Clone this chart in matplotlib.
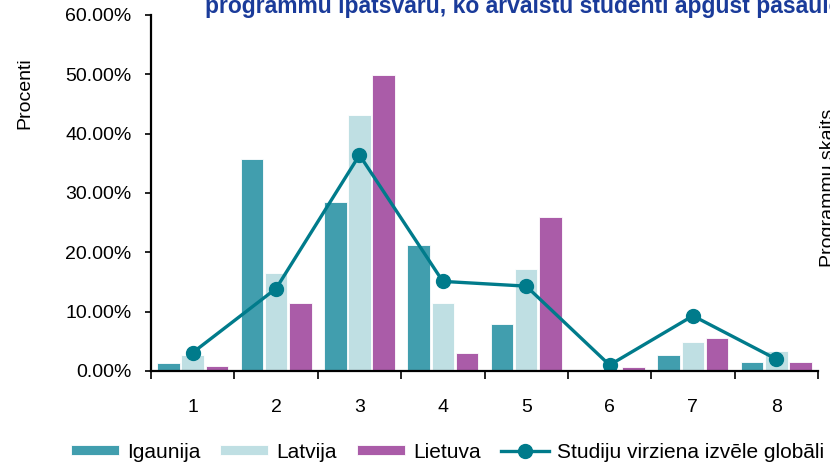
import numpy as np
import matplotlib.pyplot as plt
from matplotlib.ticker import FuncFormatter

plt.rcParams['font.family'] = ['Liberation Sans', 'DejaVu Sans']

categories = ['1', '2', '3', '4', '5', '6', '7', '8']
igaunija = [1.4, 35.7, 28.4, 21.3, 7.9, 0.0, 2.7, 1.5]
latvija = [2.7, 16.5, 43.1, 11.4, 17.2, 0.0, 4.9, 3.4]
lietuva = [0.8, 11.4, 49.9, 3.0, 26.0, 0.7, 5.6, 1.5]
globali = [3.1, 13.9, 36.4, 15.1, 14.3, 1.0, 9.3, 2.0]

c_ig = '#419EAE'
c_lv = '#BFDFE3'
c_lt = '#AA5CA8'
c_line = '#007B8B'

fig = plt.figure(figsize=(8.3, 4.67), dpi=100)
ax = fig.add_axes([0.182, 0.2056, 0.8035, 0.7623])

x = np.arange(len(categories))
w = 0.27
ax.bar(x - w - 0.02, np.array(igaunija) / 100, w, color=c_ig, edgecolor='white', linewidth=0.6, label='Igaunija')
ax.bar(x, np.array(latvija) / 100, w, color=c_lv, edgecolor='white', linewidth=0.6, label='Latvija')
ax.bar(x + w + 0.02, np.array(lietuva) / 100, w, color=c_lt, edgecolor='white', linewidth=0.6, label='Lietuva')
ax.plot(x, np.array(globali) / 100, color=c_line, linewidth=2.4, marker='o', markersize=10,
        label='Studiju virziena izvēle globāli')

ax.set_xlim(-0.5, len(categories) - 0.5)
ax.set_ylim(0, 0.6)
ax.set_yticks(np.arange(0, 0.61, 0.1))
ax.yaxis.set_major_formatter(FuncFormatter(lambda v, p: f'{v * 100:.2f}%'))
ax.tick_params(axis='y', labelsize=14, length=4, width=1.2, direction='out', pad=10)

ax.set_xticks(np.arange(-0.5, len(categories)), minor=False)
ax.set_xticklabels([])
ax.set_xticks(x, minor=True)
ax.set_xticklabels(categories, minor=True)
ax.tick_params(axis='x', which='major', length=6, width=1.2, direction='out')
ax.tick_params(axis='x', which='minor', length=0, labelsize=14, pad=20)

for s in ['top', 'right']:
    ax.spines[s].set_visible(False)
for s in ['left', 'bottom']:
    ax.spines[s].set_linewidth(1.6)

fig.text(25 / 830, 1 - 93 / 467, 'Procenti', rotation=90, fontsize=14, ha='center', va='center')
fig.text(820 / 830, 1 - 188 / 467, 'Programmu skaits', rotation=90, fontsize=14, ha='left', va='center')
fig.text(205 / 830, 1 - 13 / 467, 'programmu īpatsvaru, ko ārvalstu studenti apgūst pasaulē',
         fontsize=16.5, fontweight='bold', color='#1A3B9A', ha='left', va='baseline')

handles, labels = ax.get_legend_handles_labels()
order = [1, 2, 3, 0]
fig.legend([handles[i] for i in order], [labels[i] for i in order],
           loc='center left', bbox_to_anchor=(71 / 830, 1 - 452 / 467), ncol=4, frameon=False,
           fontsize=15, handlelength=2.3, handleheight=0.4, columnspacing=0.95, handletextpad=0.4,
           borderaxespad=0, borderpad=0)

fig.savefig('out.png', dpi=100)
